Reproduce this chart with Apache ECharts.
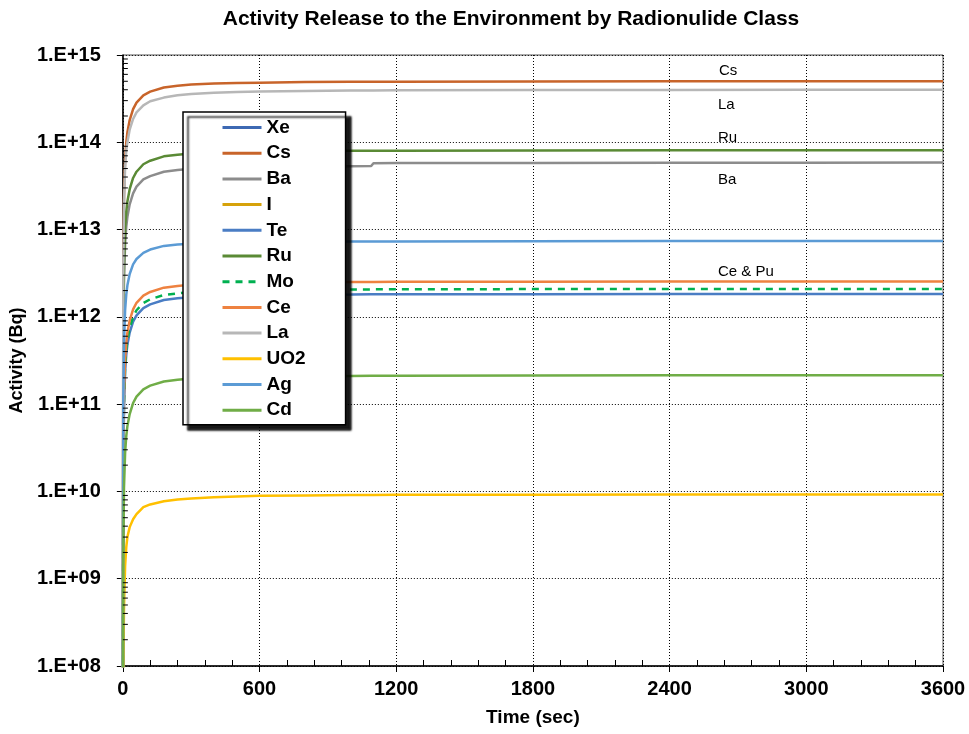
<!DOCTYPE html>
<html><head><meta charset="utf-8">
<script src="https://cdn.jsdelivr.net/npm/echarts@6/dist/echarts.min.js"></script>
<style>html,body{margin:0;padding:0;background:#fff}#c{width:969px;height:734px}</style>
</head><body><div id="c"></div>
<script>
// ---- data (time in seconds, activity in Bq) ----
const timeSec = [0,2,5,10,15,20,30,45,60,90,120,180,240,300,400,500,600,800,1000,1090,1100,1200,1800,2400,3000,3600];
const xe  = [];
const cs  = [1e7,5e12,2.5e13,6.5e13,1.0e14,1.3e14,1.8e14,2.4e14,2.85e14,3.45e14,3.8e14,4.25e14,4.45e14,4.6e14,4.7e14,4.78e14,4.82e14,4.9e14,4.93e14,4.94e14,4.94e14,4.95e14,4.98e14,4.99e14,5.0e14,5.0e14];
const ba  = [1e7,5.4e11,2.7e12,7e12,1.08e13,1.4e13,1.95e13,2.6e13,3.1e13,3.75e13,4.1e13,4.6e13,4.8e13,4.97e13,5.08e13,5.16e13,5.2e13,5.27e13,5.32e13,5.34e13,5.75e13,5.78e13,5.8e13,5.82e13,5.84e13,5.85e13];
const iod = [];
const te  = [1e7,1.8e10,9e10,2.4e11,3.7e11,4.8e11,6.6e11,8.8e11,1.04e12,1.26e12,1.39e12,1.56e12,1.63e12,1.68e12,1.72e12,1.75e12,1.77e12,1.79e12,1.8e12,1.81e12,1.81e12,1.81e12,1.82e12,1.83e12,1.83e12,1.83e12];
const ru  = [1e7,8e11,4e12,1.05e13,1.6e13,2.1e13,2.9e13,3.9e13,4.6e13,5.6e13,6.15e13,6.9e13,7.2e13,7.45e13,7.6e13,7.75e13,7.8e13,7.9e13,7.98e13,8.0e13,8.0e13,8.02e13,8.06e13,8.08e13,8.1e13,8.1e13];
const mo  = [1e7,2.1e10,1.05e11,2.7e11,4.2e11,5.4e11,7.5e11,1.0e12,1.19e12,1.44e12,1.59e12,1.78e12,1.86e12,1.92e12,1.96e12,2.0e12,2.02e12,2.04e12,2.06e12,2.06e12,2.07e12,2.07e12,2.08e12,2.09e12,2.09e12,2.09e12];
const ce  = [1e7,2.5e10,1.3e11,3.3e11,5.1e11,6.6e11,9.1e11,1.22e12,1.45e12,1.75e12,1.93e12,2.16e12,2.26e12,2.34e12,2.39e12,2.42e12,2.45e12,2.48e12,2.5e12,2.51e12,2.51e12,2.52e12,2.53e12,2.54e12,2.54e12,2.54e12];
const la  = [1e7,4e12,2e13,5.2e13,8e13,1.0e14,1.4e14,1.85e14,2.2e14,2.65e14,2.95e14,3.25e14,3.45e14,3.58e14,3.7e14,3.78e14,3.82e14,3.88e14,3.92e14,3.93e14,3.93e14,3.94e14,3.97e14,3.98e14,3.99e14,4.0e14];
const uo2 = [1e7,9e7,4.5e8,1.4e9,2.3e9,3.0e9,3.9e9,4.8e9,5.5e9,6.6e9,7.1e9,7.7e9,8.1e9,8.3e9,8.55e9,8.75e9,8.9e9,9.0e9,9.1e9,9.1e9,9.12e9,9.15e9,9.18e9,9.2e9,9.2e9,9.2e9];
const ag  = [1e7,1.1e11,5e11,1.2e12,1.8e12,2.3e12,3.1e12,4.0e12,4.6e12,5.4e12,5.9e12,6.5e12,6.75e12,6.9e12,7.0e12,7.1e12,7.15e12,7.2e12,7.28e12,7.3e12,7.3e12,7.32e12,7.36e12,7.38e12,7.4e12,7.4e12];
const cd  = [1e7,2e9,1.1e10,2.8e10,4.3e10,5.6e10,7.7e10,1.03e11,1.22e11,1.48e11,1.63e11,1.82e11,1.9e11,1.97e11,2.01e11,2.04e11,2.06e11,2.08e11,2.1e11,2.11e11,2.11e11,2.12e11,2.13e11,2.14e11,2.14e11,2.14e11];

const seriesNames = ['Xe','Cs','Ba','I','Te','Ru','Mo','Ce','La','UO2','Ag','Cd'];
const seriesValues = [xe,cs,ba,iod,te,ru,mo,ce,la,uo2,ag,cd];
const seriesColors = ['#3D69B3','#C8642A','#8C8C8C','#D6A20A','#4A7DC4','#5A8A35','#00B050','#EE8240','#B7B7B7','#FFC000','#5B9BD5','#70AD47'];

const xTickLabels = ['0','600','1200','1800','2400','3000','3600'];
const yExponents = [8,9,10,11,12,13,14,15];
const yTickLabels = ['1.E+08','1.E+09','1.E+10','1.E+11','1.E+12','1.E+13','1.E+14','1.E+15'];
const annotations = [
  {text:'Cs', left:719, top:63},
  {text:'La', left:718, top:97},
  {text:'Ru', left:718, top:130},
  {text:'Ba', left:718, top:172},
  {text:'Ce & Pu', left:718, top:264}
];

// minor log ticks (2..9 x 10^k)
const minorTickData = [];
for (let k = 8; k < 15; k++) for (let m = 2; m <= 9; m++) minorTickData.push([0, m * Math.pow(10, k)]);

const chart = echarts.init(document.getElementById('c'), null, {renderer:'canvas'});
const font = 'Liberation Sans, Arial, sans-serif';

const lineSeries = seriesNames.map((name, i) => ({
  name: name,
  type: 'line',
  data: seriesValues[i].map((v, j) => [timeSec[j], v]),
  symbol: 'none',
  showSymbol: false,
  clip: true,
  color: seriesColors[i],
  itemStyle: {color: seriesColors[i]},
  lineStyle: {width: 2.5, color: seriesColors[i], type: name === 'Mo' ? [7,6] : 'solid'},
  emphasis: {disabled: true},
  animation: false,
  z: 3
}));

lineSeries.push({
  type: 'custom',
  name: 'minorTicks',
  data: minorTickData,
  silent: true,
  animation: false,
  clip: false,
  z: 4,
  renderItem: function (params, api) {
    const p = api.coord([api.value(0), api.value(1)]);
    return {type:'line', shape:{x1:p[0], y1:p[1], x2:p[0]+5, y2:p[1]}, style:{stroke:'#000', lineWidth:1}};
  }
});

const option = {
  backgroundColor: '#fff',
  animation: false,
  title: {
    text: 'Activity Release to the Environment by Radionulide Class',
    left: 506, top: 4, textAlign: 'center',
    textStyle: {fontFamily: font, fontSize: 21, fontWeight: 'bold', color: '#000'}
  },
  grid: {left: 119, right: 26, top: 55, bottom: 68, containLabel: false,
    show: true, borderColor: '#555', borderWidth: 1, backgroundColor: 'transparent'},
  legend: {
    data: seriesNames,
    orient: 'vertical',
    left: 183, top: 112,
    padding: [6, 40, 5, 38],
    itemWidth: 39, itemHeight: 14, itemGap: 6.7,
    backgroundColor: '#fff',
    borderColor: '#000', borderWidth: 1.5,
    shadowColor: 'rgba(0,0,0,0.9)', shadowBlur: 2, shadowOffsetX: 5, shadowOffsetY: 5,
    textStyle: {fontFamily: font, fontSize: 19, fontWeight: 'bold', color: '#000'},
    itemStyle: {opacity: 0},
    lineStyle: {width: 3},
    selectedMode: false,
    z: 20
  },
  xAxis: {
    type: 'value', min: 0, max: 3600, interval: 600,
    name: 'Time (sec)', nameLocation: 'middle', nameGap: 42,
    nameTextStyle: {fontFamily: font, fontSize: 19, fontWeight: 'bold', color: '#000'},
    axisLine: {show: true, onZero: false, lineStyle: {color: '#000', width: 1.5}},
    axisTick: {show: true, length: 6, lineStyle: {color: '#000'}},
    minorTick: {show: true, splitNumber: 5, length: -6, lineStyle: {color: '#000'}},
    axisLabel: {fontFamily: font, fontSize: 20, fontWeight: 'bold', color: '#000', margin: 13,
      formatter: v => xTickLabels[Math.round(v / 600)]},
    splitLine: {show: true, lineStyle: {color: '#000', type: [1,2], width: 1}}
  },
  yAxis: {
    type: 'log', logBase: 10, min: 1e8, max: 1e15, splitNumber: 7,
    name: 'Activity (Bq)', nameLocation: 'middle', nameGap: 92,
    nameTextStyle: {fontFamily: font, fontSize: 18, fontWeight: 'bold', color: '#000'},
    axisLine: {show: true, lineStyle: {color: '#000', width: 1.5}},
    axisTick: {show: true, length: 6, lineStyle: {color: '#000'}},
    axisLabel: {fontFamily: font, fontSize: 20, fontWeight: 'bold', color: '#000', margin: 22,
      formatter: v => { const e = Math.round(Math.log10(v)); return yTickLabels[yExponents.indexOf(e)]; }},
    splitLine: {show: true, lineStyle: {color: '#000', type: [1,2], width: 1}}
  },
  graphic: annotations.map(a => ({
    type: 'text', left: a.left, top: a.top, z: 10,
    style: {text: a.text, fontFamily: font, fontSize: 15, fill: '#000'}
  })),
  series: lineSeries
};
chart.setOption(option);
</script></body></html>
